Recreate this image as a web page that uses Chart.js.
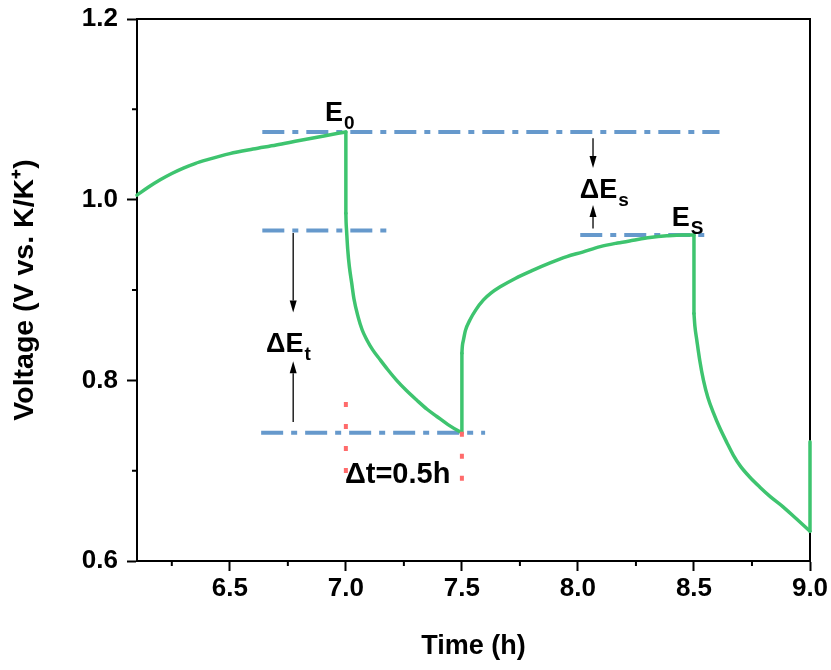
<!DOCTYPE html>
<html>
<head>
<meta charset="utf-8">
<script src="https://cdn.jsdelivr.net/npm/chart.js@4.4.1/dist/chart.umd.min.js"></script>
<style>
  html, body { margin: 0; padding: 0; background: #fff; }
  #c { display: block; }
</style>
</head>
<body>
<canvas id="c" width="831" height="670"></canvas>
<script>
// ---------- data ----------
const timeH = [
  6.10, 6.15, 6.20, 6.25, 6.30, 6.35, 6.40, 6.50, 6.60, 6.70, 6.80, 6.90, 7.00,
  7.000, 7.001, 7.003, 7.008, 7.015, 7.025, 7.035, 7.053, 7.070, 7.090, 7.115, 7.147, 7.180, 7.219, 7.260, 7.306, 7.350, 7.392, 7.440, 7.492, 7.500,
  7.500, 7.502, 7.507, 7.515, 7.535, 7.560, 7.593, 7.625, 7.665, 7.730, 7.807, 7.880, 7.952, 8.020, 8.096, 8.170, 8.238, 8.310, 8.383, 8.450, 8.500,
  8.500, 8.504, 8.512, 8.525, 8.541, 8.560, 8.584, 8.610, 8.642, 8.670, 8.700, 8.740, 8.783, 8.830, 8.884, 8.940, 9.000, 9.000
];
const voltage = [
  1.005, 1.014, 1.022, 1.029, 1.035, 1.040, 1.044, 1.051, 1.056, 1.0605, 1.0655, 1.0703, 1.075,
  0.985, 0.975, 0.966, 0.945, 0.926, 0.908, 0.890, 0.870, 0.856, 0.845, 0.834, 0.823, 0.812, 0.800, 0.789, 0.778, 0.768, 0.760, 0.751, 0.743, 0.742,
  0.830, 0.838, 0.845, 0.855, 0.867, 0.878, 0.889, 0.8965, 0.9035, 0.9128, 0.922, 0.930, 0.937, 0.942, 0.948, 0.952, 0.955, 0.958, 0.960, 0.961, 0.961,
  0.874, 0.860, 0.845, 0.822, 0.800, 0.781, 0.764, 0.748, 0.731, 0.717, 0.705, 0.693, 0.682, 0.671, 0.660, 0.647, 0.633, 0.732
];

// reference (dash-dot) levels: [level, xStart, xEnd]
const levelE0  = [1.075, 6.64, 8.61];
const levelEtTop = [0.966, 6.64, 7.20];
const levelEtBot = [0.742, 6.635, 7.60];
const levelEs  = [0.961, 8.01, 8.57];

// red dotted time markers: [time, yTop, yBottom]
const markStart = [7.0, 0.776, 0.694];
const markEnd   = [7.5, 0.743, 0.688];

// axis ticks
const xMajor = [6.5, 7.0, 7.5, 8.0, 8.5, 9.0];
const xMinor = [6.25, 6.75, 7.25, 7.75, 8.25, 8.75];
const yMajor = [0.6, 0.8, 1.0, 1.2];
const yMinor = [0.7, 0.9, 1.1];

// annotations (data coordinates of left baseline)
const labels = [
  { main: 'E',  sub: '0', x: 6.910, y: 1.087, size: 27 },
  { main: 'ΔE', sub: 't', x: 6.656, y: 0.831, size: 27 },
  { main: 'Δt=0.5h', sub: '', x: 6.996, y: 0.686, size: 29 },
  { main: 'ΔE', sub: 's', x: 8.008, y: 1.002, size: 27 },
  { main: 'E',  sub: 'S', x: 8.404, y: 0.971, size: 27 }
];
// arrows: [x, yFrom, yTo(head)]
const arrows = [
  [6.773, 0.963, 0.875],
  [6.773, 0.754, 0.821],
  [8.065, 1.068, 1.035],
  [8.065, 0.968, 0.994]
];

// ---------- build ----------
const FONT = "'Liberation Sans', Arial, Helvetica, sans-serif";
const BLUE = '#6699cc', RED = '#ff6b6b', GREEN = '#3ec46f';

// split the trace into smooth pieces and vertical jumps (same time)
const segments = [];
let cur = [{ x: timeH[0], y: voltage[0] }];
for (let i = 1; i < timeH.length; i++) {
  const p = { x: timeH[i], y: voltage[i] };
  if (timeH[i] === timeH[i - 1]) {
    segments.push(cur);
    segments.push([cur[cur.length - 1], p]);
    cur = [p];
  } else {
    cur.push(p);
  }
}
if (cur.length > 1) segments.push(cur);

const curveSets = segments.map(seg => ({
  data: seg, borderColor: GREEN, borderWidth: 3.5, pointRadius: 0,
  cubicInterpolationMode: 'monotone', order: 1, clip: false,
  borderCapStyle: 'round', borderJoinStyle: 'round'
}));

const hLine = l => [{ x: l[1], y: l[0] }, { x: l[2], y: l[0] }];
const vLine = m => [{ x: m[0], y: m[1] }, { x: m[0], y: m[2] }];
const blueDs = d => ({ data: hLine(d), borderColor: BLUE, borderWidth: 4, borderDash: [22, 8, 6, 8], pointRadius: 0, order: 2, clip: false });
const redDs = d => ({ data: vLine(d), borderColor: RED, borderWidth: 4, borderDash: [5, 17], pointRadius: 0, order: 0, clip: false });

const extras = {
  id: 'extras',
  beforeDatasetsDraw(chart) {
    const { ctx, chartArea: a, scales: { x, y } } = chart;
    ctx.save();
    ctx.strokeStyle = '#000';
    ctx.lineWidth = 2;
    ctx.beginPath();
    ctx.moveTo(a.left, a.top); ctx.lineTo(a.right, a.top); ctx.lineTo(a.right, a.bottom);
    xMinor.forEach(v => { const p = x.getPixelForValue(v); ctx.moveTo(p, a.bottom); ctx.lineTo(p, a.bottom + 5); });
    yMinor.forEach(v => { const p = y.getPixelForValue(v); ctx.moveTo(a.left - 5, p); ctx.lineTo(a.left, p); });
    ctx.stroke();
    ctx.restore();
  },
  afterDatasetsDraw(chart) {
    const { ctx, scales: { x, y } } = chart;
    ctx.save();
    ctx.strokeStyle = '#000'; ctx.fillStyle = '#000'; ctx.lineWidth = 1.3;
    arrows.forEach(([xv, y0, y1]) => {
      const px = x.getPixelForValue(xv), p0 = y.getPixelForValue(y0), p1 = y.getPixelForValue(y1);
      const dir = Math.sign(p1 - p0), hl = 12, hw = 3.5;
      ctx.beginPath(); ctx.moveTo(px, p0); ctx.lineTo(px, p1 - dir * hl); ctx.stroke();
      ctx.beginPath(); ctx.moveTo(px, p1); ctx.lineTo(px - hw, p1 - dir * hl); ctx.lineTo(px + hw, p1 - dir * hl); ctx.closePath(); ctx.fill();
    });
    ctx.textBaseline = 'alphabetic'; ctx.textAlign = 'left';
    labels.forEach(l => {
      const px = x.getPixelForValue(l.x), py = y.getPixelForValue(l.y);
      ctx.font = 'bold ' + l.size + 'px ' + FONT;
      ctx.fillText(l.main, px, py);
      if (l.sub) {
        const w = ctx.measureText(l.main).width;
        ctx.font = 'bold 19px ' + FONT;
        ctx.fillText(l.sub, px + w + 1, py + 8);
      }
    });
    ctx.restore();
  }
};

new Chart(document.getElementById('c'), {
  type: 'line',
  data: {
    datasets: [
      ...curveSets,
      blueDs(levelE0), blueDs(levelEtTop), blueDs(levelEtBot), blueDs(levelEs),
      redDs(markStart), redDs(markEnd)
    ]
  },
  options: {
    responsive: false,
    animation: false,
    devicePixelRatio: 1,
    layout: { padding: { left: 0, right: 21, top: 19, bottom: 0 } },
    plugins: { legend: { display: false }, tooltip: { enabled: false } },
    scales: {
      x: {
        type: 'linear', min: 6.1, max: 9.0,
        afterBuildTicks: s => { s.ticks = xMajor.map(v => ({ value: v })); },
        afterFit: s => { s.height = 109; s.paddingRight = 0; s.paddingLeft = 0; },
        ticks: { color: '#000', font: { family: FONT, size: 26, weight: 'bold', lineHeight: 1 }, padding: 5, maxRotation: 0, autoSkip: false, callback: v => Number(v).toFixed(1) },
        grid: { drawOnChartArea: false, tickLength: 10, tickWidth: 2, tickColor: '#000' },
        border: { color: '#000', width: 2 },
        title: { display: true, text: 'Time (h)', color: '#000', font: { family: FONT, size: 27, weight: 'bold' }, padding: { top: 0, bottom: 7 } }
      },
      y: {
        min: 0.6, max: 1.2,
        afterBuildTicks: s => { s.ticks = yMajor.map(v => ({ value: v })); },
        afterFit: s => { s.width = 137; s.paddingTop = 0; s.paddingBottom = 0; },
        ticks: { color: '#000', font: { family: FONT, size: 26, weight: 'bold', lineHeight: 1 }, padding: 9, autoSkip: false, callback: v => Number(v).toFixed(1) },
        grid: { drawOnChartArea: false, tickLength: 10, tickWidth: 2, tickColor: '#000' },
        border: { color: '#000', width: 2 },
        title: { display: true, text: 'Voltage (V vs. K/K⁺)', color: '#000', font: { family: FONT, size: 28.5, weight: 'bold' }, padding: { top: 8, bottom: 0 } }
      }
    }
  },
  plugins: [extras]
});
</script>
</body>
</html>
